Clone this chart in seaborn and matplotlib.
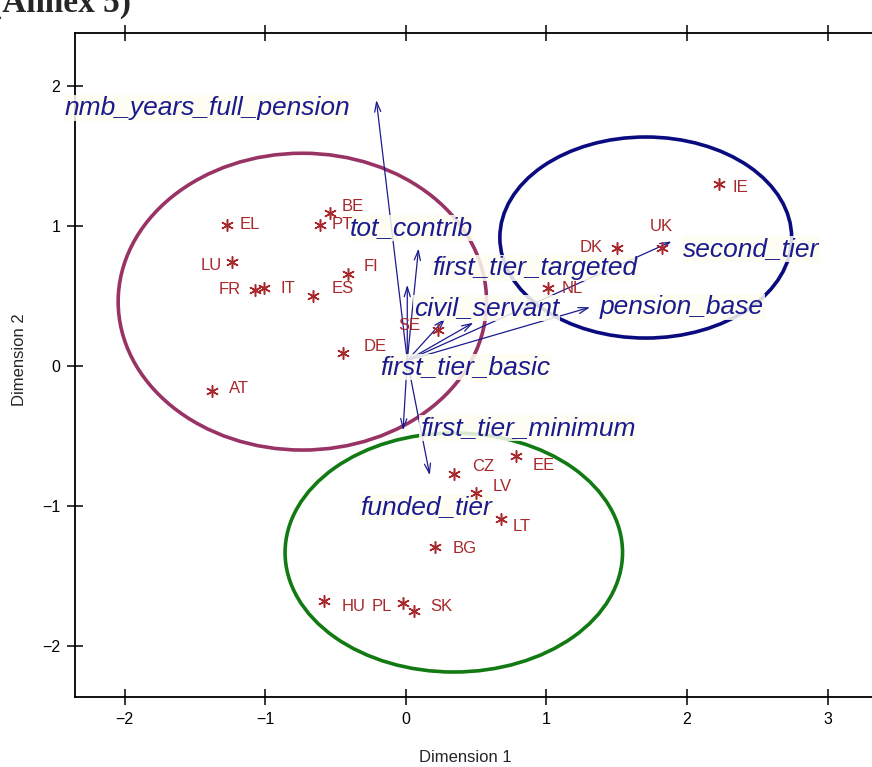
import matplotlib
matplotlib.use("Agg")
import matplotlib.pyplot as plt
from matplotlib.patches import Ellipse
import seaborn as sns
import pandas as pd

# ---------------- data ----------------
countries = ['EL', 'BE', 'PT', 'LU', 'FR', 'IT', 'ES', 'FI', 'DE', 'AT', 'SE', 'NL',
             'DK', 'UK', 'IE', 'CZ', 'EE', 'LV', 'LT', 'BG', 'HU', 'PL', 'SK']
dim1 = [-1.27, -0.54, -0.61, -1.24, -1.07, -1.01, -0.66, -0.41, -0.45, -1.38, 0.23, 1.01,
        1.50, 1.82, 2.23, 0.34, 0.78, 0.50, 0.68, 0.21, -0.58, -0.02, 0.06]
dim2 = [1.01, 1.09, 1.01, 0.74, 0.54, 0.56, 0.50, 0.66, 0.09, -0.18, 0.26, 0.56,
        0.84, 0.84, 1.30, -0.77, -0.64, -0.91, -1.09, -1.29, -1.68, -1.69, -1.75]

variables = ['nmb_years_full_pension', 'tot_contrib', 'first_tier_targeted', 'civil_servant',
             'pension_base', 'second_tier', 'first_tier_basic', 'first_tier_minimum', 'funded_tier']
var_dim1 = [-0.21, 0.09, 0.01, 0.48, 1.31, 1.89, 0.28, -0.02, 0.17]
var_dim2 = [1.90, 0.84, 0.58, 0.31, 0.42, 0.89, 0.34, -0.46, -0.78]

x_ticks = [-2, -1, 0, 1, 2, 3]
y_ticks = [-2, -1, 0, 1, 2]

# cluster ellipses: centre x, centre y, width, height
clusters = {
    'south': (-0.736, 0.46, 2.62, 2.12),
    'anglo': (1.706, 0.918, 2.075, 1.436),
    'east': (0.341, -1.332, 2.40, 1.707),
}

# ---------------- layout (label placement) ----------------
arrow_origin = (0.01, 0.04)
country_offsets = {  # pixels (dx, dy up), alignment
    'EL': (12, 0, 'left'), 'BE': (12, 7, 'left'), 'PT': (12, 0, 'left'),
    'LU': (-10, -3, 'right'), 'FR': (-15, 1, 'right'), 'IT': (17, -1, 'left'),
    'ES': (19, 8, 'left'), 'FI': (15, 7, 'left'), 'DE': (21, 7, 'left'),
    'AT': (17, 3, 'left'), 'SE': (-18, 4, 'right'), 'NL': (14, -1, 'left'),
    'DK': (-14, 1, 'right'), 'UK': (0, 22, 'center'), 'IE': (13, -3, 'left'),
    'CZ': (18, 7, 'left'), 'EE': (17, -10, 'left'), 'LV': (16, 7, 'left'),
    'LT': (11, -8, 'left'), 'BG': (17, -2, 'left'), 'HU': (17, -5, 'left'),
    'PL': (-11, -4, 'right'), 'SK': (16, 5, 'left'),
}
var_label_pos = {  # left edge, vertical centre (data units)
    'nmb_years_full_pension': (-2.424, 1.843),
    'tot_contrib': (-0.398, 0.986),
    'first_tier_targeted': (0.185, 0.70),
    'civil_servant': (0.057, 0.414),
    'pension_base': (1.379, 0.421),
    'second_tier': (1.969, 0.836),
    'first_tier_basic': (-0.185, -0.007),
    'first_tier_minimum': (0.10, -0.443),
    'funded_tier': (-0.327, -1.007),
}
ellipse_colors = {'south': '#993366', 'anglo': '#0B0B80', 'east': '#127A12'}

RED = '#A8282C'
NAVY = '#1B1B8E'

# ---------------- plotting ----------------
sns.set_style("white")
plt.rcParams['font.family'] = ['Liberation Sans', 'DejaVu Sans']

W, H = 872, 767
fig = plt.figure(figsize=(W / 100, H / 100), dpi=100)
ax = fig.add_axes([75 / W, (H - 697) / H, (898 - 75) / W, (697 - 33) / H])

df = pd.DataFrame({'country': countries, 'dim1': dim1, 'dim2': dim2})

# ellipses
for key, (cx, cy, ew, eh) in clusters.items():
    ax.add_patch(Ellipse((cx, cy), ew, eh, fill=False, lw=2.6,
                         edgecolor=ellipse_colors[key], zorder=2))

# arrows
for name, vx, vy in zip(variables, var_dim1, var_dim2):
    ax.annotate('', xy=(vx, vy), xytext=arrow_origin,
                arrowprops=dict(arrowstyle='->,head_length=0.7,head_width=0.22',
                                lw=0.9, color=NAVY, shrinkA=0, shrinkB=0),
                zorder=3)

# variable labels
for name in variables:
    lx, ly = var_label_pos[name]
    ax.text(lx, ly, name, fontsize=19, style='italic', color=NAVY,
            ha='left', va='center', zorder=4, clip_on=False,
            bbox=dict(facecolor='#FDFDF2', edgecolor='none', pad=0.5, alpha=0.85))

# country points
sns.scatterplot(data=df, x='dim1', y='dim2', ax=ax, marker=(6, 2, 0), s=70,
                color=RED, edgecolor=RED, linewidth=1.1, zorder=5, legend=False)

for c, x, y in zip(countries, dim1, dim2):
    dx, dy, ha = country_offsets[c]
    ax.annotate(c, xy=(x, y), xytext=(dx, dy), textcoords='offset pixels',
                fontsize=12, color=RED, ha=ha, va='center', zorder=6)

# axes styling
ax.set_xlim(-2.353, 3.5)
ax.set_ylim(-2.364, 2.379)
ax.set_xticks(x_ticks)
ax.set_yticks(y_ticks)
ax.set_xlabel('')
ax.set_ylabel('')
for side in ['left', 'bottom', 'top']:
    ax.spines[side].set_visible(True)
    ax.spines[side].set_color('black')
    ax.spines[side].set_linewidth(1.3)
ax.spines['right'].set_visible(False)
ax.tick_params(axis='both', direction='inout', length=11, width=1.1, color='black',
               labelsize=11.5, pad=5, labelcolor='black')
ax.tick_params(axis='x', top=True, labeltop=False, bottom=True)
ax.tick_params(axis='y', left=True, right=False)

fig.text(465 / W, 1 - 757 / H, 'Dimension 1', ha='center', va='center', fontsize=12)
fig.text(20 / W, 1 - 360 / H, 'Dimension 2', ha='center', va='center',
         rotation=90, fontsize=12)

fig.text(-9 / W, 1 - 12 / H, '(Annex 5)', ha='left', va='baseline', fontsize=24,
         fontweight='bold', family=['Liberation Serif', 'DejaVu Serif'])

fig.savefig('out.png', dpi=100)
